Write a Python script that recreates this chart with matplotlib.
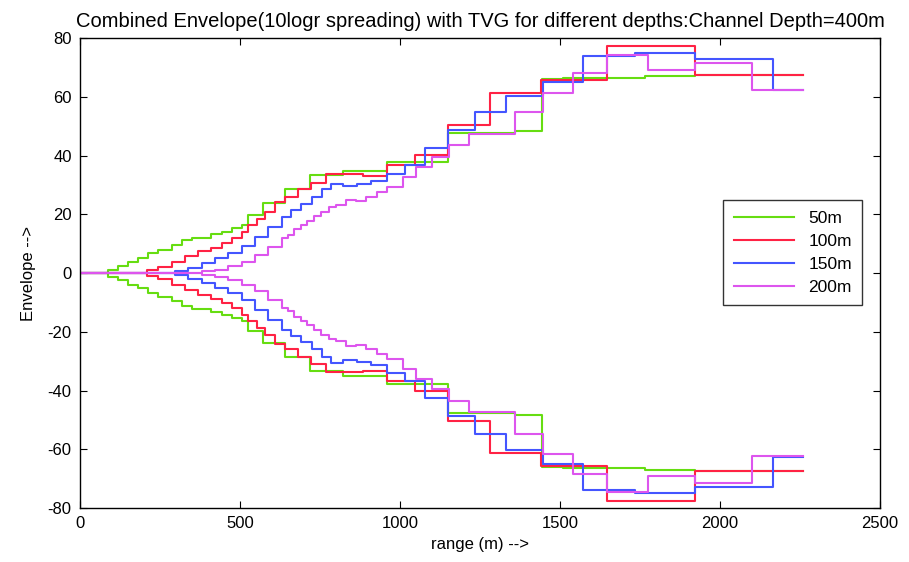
import numpy as np
import matplotlib.pyplot as plt

# upper envelope for each source depth (steps-post)
# the lower envelope is the mirror image
r_50 = [0, 89, 120, 151, 182, 214, 245, 286, 318, 349, 411, 443, 474, 505, 526, 573, 641,
        719, 823, 958, 1151, 1359, 1443, 1510, 1766, 1921, 2260]
v_50 = [0, 1.2, 2.4, 3.9, 5.0, 6.7, 8.0, 9.5, 11.2, 12.1, 13.3, 14.1, 15.2, 16.3, 19.7, 23.9, 28.5,
        33.3, 34.9, 37.7, 47.8, 48.4, 66.0, 66.5, 67.0, 67.4, 67.4]

r_100 = [0, 208, 245, 286, 328, 370, 411, 443, 474, 505, 526, 552, 578, 609, 641, 680, 722, 769,
         885, 958, 1047, 1151, 1281, 1440, 1648, 1921, 2260]
v_100 = [0, 1.0, 2.0, 3.9, 5.8, 7.5, 8.7, 10.3, 11.8, 14.1, 16.3, 18.6, 20.9, 24.3, 26.0, 28.5, 30.8, 33.6,
         33.2, 36.9, 40.3, 50.4, 61.4, 65.8, 77.5, 67.4, 67.4]

r_150 = [0, 297, 339, 380, 422, 464, 505, 547, 589, 630, 661, 690, 724, 755, 786, 823, 865, 911,
         958, 1016, 1078, 1151, 1234, 1331, 1446, 1573, 1734, 1921, 2165, 2260]
v_150 = [0, 0.8, 1.9, 3.3, 5.0, 6.9, 9.2, 12.4, 15.8, 19.2, 21.4, 23.5, 25.8, 28.5, 30.5, 29.6, 30.3, 31.4,
         33.9, 36.8, 42.5, 48.7, 54.9, 60.3, 65.1, 73.9, 75.0, 73.0, 62.5, 62.5]

r_200 = [0, 380, 422, 464, 505, 547, 589, 630, 650, 670, 690, 710, 730, 752, 777, 800, 830, 862,
         893, 927, 958, 1010, 1050, 1100, 1152, 1217, 1359, 1446, 1540, 1648, 1776, 1921, 2099, 2260]
v_200 = [0, 0.6, 1.2, 2.4, 3.9, 6.1, 9.0, 11.8, 12.9, 14.9, 16.3, 17.8, 19.4, 20.9, 22.6, 23.2, 24.8, 24.6,
         26.0, 27.7, 29.4, 32.8, 36.2, 39.6, 43.6, 47.3, 54.9, 61.5, 68.3, 74.4, 69.1, 71.6, 62.3, 62.3]

labels = ["50m", "100m", "150m", "200m"]
colors = ["#66dd11", "#ff2244", "#4455ff", "#dd55ee"]
ranges = [r_50, r_100, r_150, r_200]
values = [v_50, v_100, v_150, v_200]

plt.rcParams['font.family'] = ['Liberation Sans', 'DejaVu Sans']
plt.rcParams['axes.unicode_minus'] = False

fig = plt.figure(figsize=(9.09, 5.62), dpi=100)
ax = fig.add_axes([0.088, 0.096, 0.880, 0.836])

for r, v, c, lab in zip(ranges, values, colors, labels):
    ax.plot(np.array(r), np.array(v), drawstyle='steps-post', color=c, lw=1.5, label=lab)
for r, v, c in zip(ranges, values, colors):
    ax.plot(np.array(r), -np.array(v), drawstyle='steps-post', color=c, lw=1.5)

ax.set_xlim(0, 2500)
ax.set_ylim(-80, 80)
ax.set_xticks(np.arange(0, 2501, 500))
ax.set_yticks(np.arange(-80, 81, 20))
ax.tick_params(direction='in', top=True, right=True, labelsize=12, length=5, pad=6)
for s in ax.spines.values():
    s.set_linewidth(1.0)

ax.set_title("Combined Envelope(10logr spreading) with TVG for different depths:Channel Depth=400m",
             fontsize=14.5, pad=8)
ax.set_xlabel("range (m) -->", fontsize=12)
ax.set_ylabel("Envelope -->", fontsize=12, labelpad=8)

leg = ax.legend(loc='upper left', bbox_to_anchor=(0.804, 0.655), borderaxespad=0,
                fontsize=12.5, frameon=True, fancybox=False, edgecolor='black',
                handlelength=3.5, borderpad=0.6, labelspacing=0.45)
leg.get_frame().set_linewidth(1.0)

fig.savefig("out.png", dpi=100)
